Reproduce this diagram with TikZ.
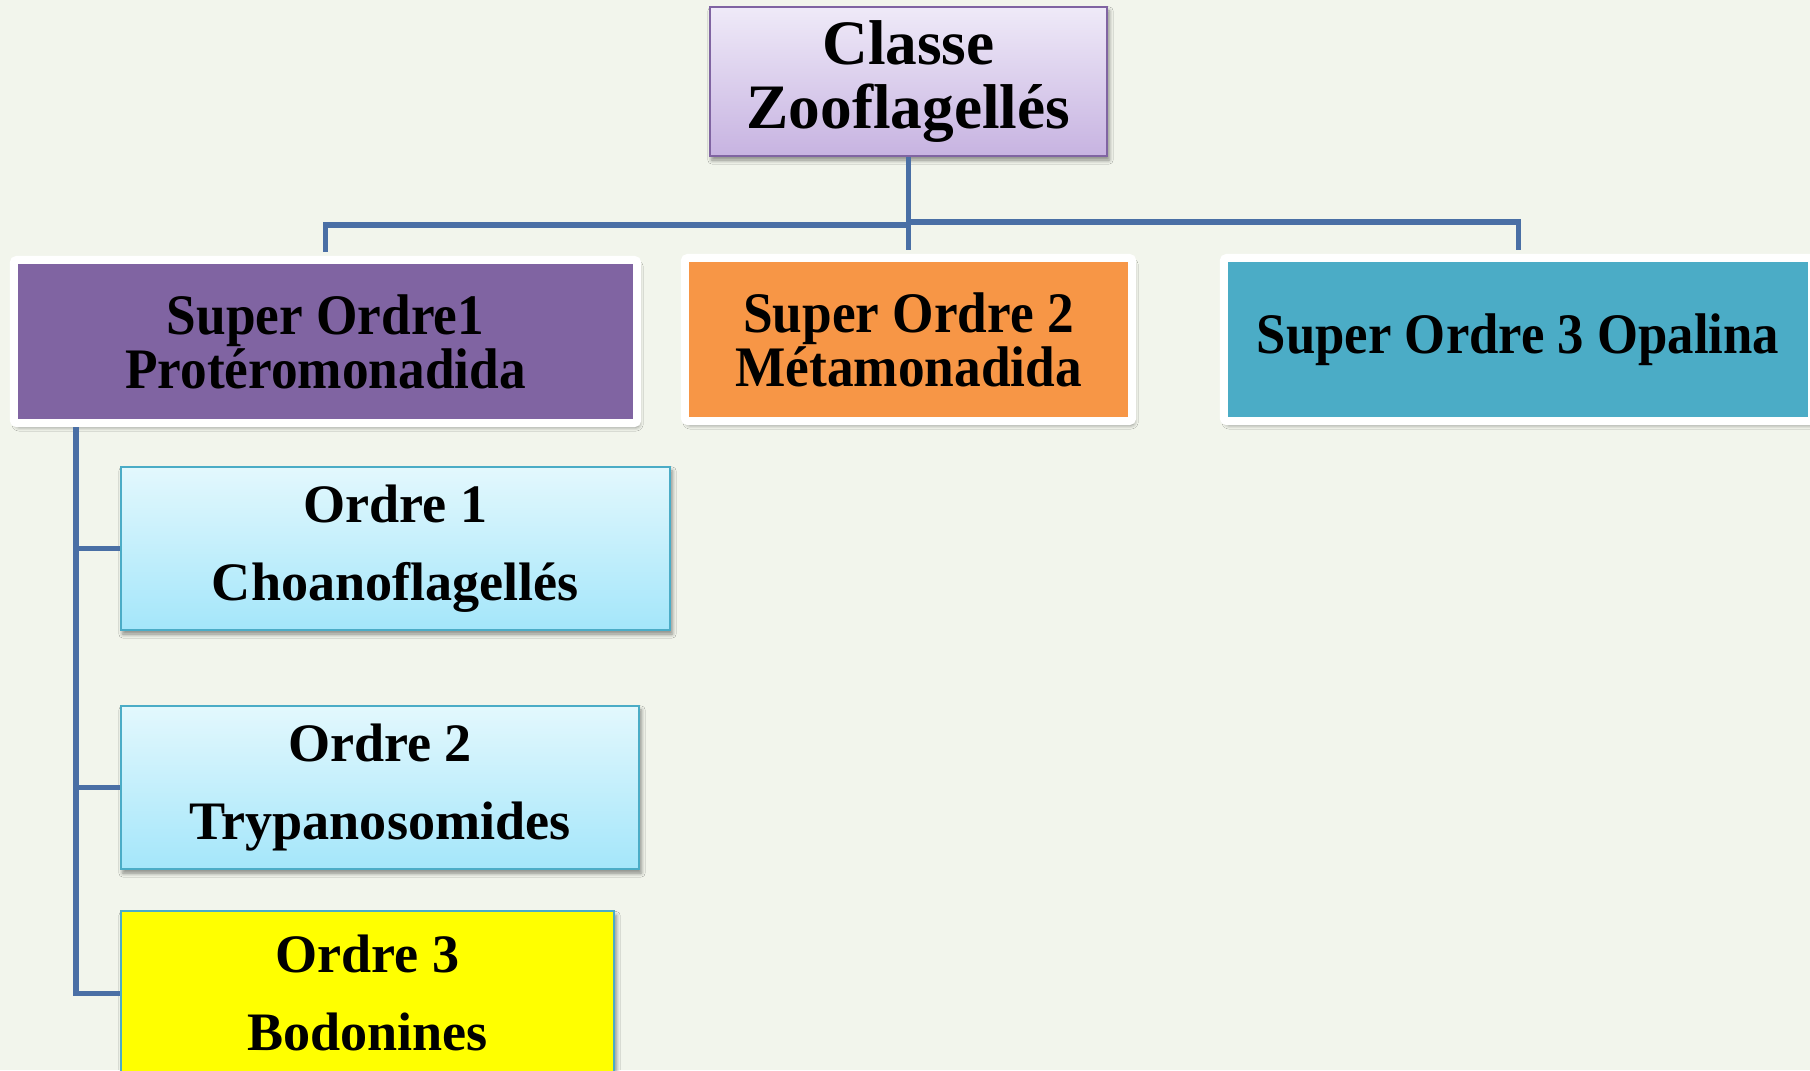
\documentclass[tikz,border=0pt]{standalone}
\usepackage{fontspec}
\setmainfont{Liberation Serif}
\newfontfamily\narrowserif{Liberation Serif}[FakeStretch=0.93]
\newfontfamily\wideserif{Liberation Serif}[FakeStretch=0.92]
\usetikzlibrary{shadows.blur}

\definecolor{paper}{HTML}{F2F5EC}
\definecolor{linkblue}{HTML}{4A6FA5}
\definecolor{classedge}{HTML}{8064A2}
\definecolor{classtop}{HTML}{EFEAF8}
\definecolor{classbottom}{HTML}{C7B3E1}
\definecolor{superpurple}{HTML}{8064A2}
\definecolor{superorange}{HTML}{F79646}
\definecolor{superteal}{HTML}{4BACC6}
\definecolor{ordreedge}{HTML}{4BACC6}
\definecolor{ordretop}{HTML}{E3F8FD}
\definecolor{ordrebottom}{HTML}{A4E6FA}
\definecolor{ordreyellow}{HTML}{FFFF00}

\begin{document}
\begin{tikzpicture}[
  x=0.01cm, y=-0.01cm,
  link/.style={draw=linkblue, line width=0.05cm},
  softshadow/.style={blur shadow={shadow xshift=0.02cm, shadow yshift=-0.04cm,
    shadow blur radius=0.04cm, shadow opacity=45}},
  classbox/.style={draw=classedge, line width=0.02cm, top color=classtop,
    bottom color=classbottom, inner sep=0pt, align=center, softshadow,
    font=\fontsize{18pt}{18.3pt}\selectfont\bfseries},
  superbox/.style={draw=white, line width=0.08cm, rounded corners=0.03cm,
    minimum height=1.63cm, inner sep=0pt, align=center, softshadow,
    font=\fontsize{16.3pt}{15.4pt}\selectfont\bfseries},
  ordrebox/.style={draw=ordreedge, line width=0.02cm, minimum height=1.63cm,
    inner sep=0pt, align=center, softshadow,
    font=\fontsize{15.4pt}{22.2pt}\selectfont\bfseries},
  ordrepale/.style={ordrebox, top color=ordretop, bottom color=ordrebottom}
]

% Page and clipping frame.
\useasboundingbox (0,0) rectangle (1810,1070);
\fill[paper] (0,0) rectangle (1810,1070);
\clip (0,0) rectangle (1810,1070);

% Class at the top.
\node[classbox, minimum width=3.97cm, minimum height=1.49cm] (classe) at (908.5,81.5)
  {Classe\\Zooflagellés};

% Super orders.
\node[superbox, fill=superpurple, minimum width=6.23cm] (so1) at (325.5,341.5)
  {\narrowserif Super Ordre1\\\narrowserif Protéromonadida};
\node[superbox, fill=superorange, minimum width=4.47cm] (so2) at (908.5,339.5)
  {\narrowserif Super Ordre 2\\\narrowserif Métamonadida};
\node[superbox, fill=superteal, minimum width=5.88cm] (so3) at (1518,339.5)
  {\wideserif Super Ordre 3 Opalina};

% Orders under the first super order.
\node[ordrepale, minimum width=5.49cm] (o1) at (395.5,548.5)
  {Ordre 1\\Choanoflagellés};
\node[ordrepale, minimum width=5.18cm] (o2) at (380,787.5)
  {Ordre 2\\Trypanosomides};
\node[ordrebox, fill=ordreyellow, minimum width=4.93cm] (o3) at (367.5,993)
  {Ordre 3\\Bodonines};

% Tree links.
\coordinate (hub) at (908.5,225);
\coordinate (hubr) at (908.5,222);
\coordinate (trunk) at (76,427);
\draw[link, shorten >=0.04cm] (classe.south) -- (so2.north);
\draw[link, shorten >=0.04cm] (hub) -| (so1.north);
\draw[link, shorten >=0.04cm] (hubr) -| (so3.north);
\draw[link] (trunk) |- (o1.west);
\draw[link] (trunk) |- (o2.west);
\draw[link] (trunk) |- (o3.west);

\end{tikzpicture}
\end{document}
